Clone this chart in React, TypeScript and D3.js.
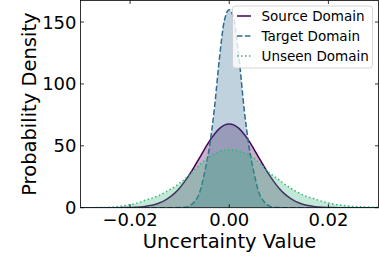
import * as d3 from 'd3';

const xValues = [
  -0.03, -0.029, -0.028, -0.027, -0.026, -0.025, -0.024, -0.023, -0.022, -0.021,
  -0.02, -0.019, -0.018, -0.017, -0.016, -0.015, -0.014, -0.013, -0.012, -0.011,
  -0.01, -0.009, -0.008, -0.007, -0.006, -0.005, -0.004, -0.003, -0.002, -0.001,
  0,
  0.001, 0.002, 0.003, 0.004, 0.005, 0.006, 0.007, 0.008, 0.009, 0.01,
  0.011, 0.012, 0.013, 0.014, 0.015, 0.016, 0.017, 0.018, 0.019, 0.02,
  0.021, 0.022, 0.023, 0.024, 0.025, 0.026, 0.027, 0.028, 0.029, 0.03,
];

const sourceDensity = [
  0, 0, 0, 0, 0, 0, 0, 0, 0.05, 0.1,
  0.2, 0.3, 0.6, 1.0, 1.7, 2.6, 4.0, 5.9, 8.5, 11.8,
  16.0, 21.1, 26.9, 33.4, 40.3, 47.2, 53.8, 59.4, 63.9, 66.7,
  67.7,
  66.7, 63.9, 59.4, 53.8, 47.2, 40.3, 33.4, 26.9, 21.1, 16.0,
  11.8, 8.5, 5.9, 4.0, 2.6, 1.7, 1.0, 0.6, 0.3, 0.2,
  0.1, 0.05, 0, 0, 0, 0, 0, 0, 0, 0,
];

const targetDensity = [
  0, 0, 0, 0, 0, 0, 0, 0, 0, 0,
  0, 0, 0, 0, 0, 0, 0, 0, 0, 0,
  0.1, 0.4, 1.5, 5, 12, 28, 49, 80, 120, 151,
  160,
  151, 120, 80, 49, 28, 12, 5, 1.5, 0.4, 0.1,
  0, 0, 0, 0, 0, 0, 0, 0, 0, 0,
  0, 0, 0, 0, 0, 0, 0, 0, 0, 0,
];

const unseenDensity = [
  0.03, 0.04, 0.05, 0.07, 0.1, 0.2, 0.4, 0.7, 1.1, 1.7,
  2.4, 3.3, 4.5, 6.0, 7.2, 8.5, 10.2, 12.2, 14.5, 16.8,
  19.8, 23.0, 27.0, 30.5, 34.5, 38.0, 41.0, 43.5, 45.5, 46.5,
  46.8,
  46.6, 45.5, 44.2, 42.7, 40.0, 36.5, 32.5, 28.5, 25.5, 22.6,
  19.5, 16.8, 14.2, 12.0, 10.0, 8.6, 7.4, 6.0, 4.8, 3.9,
  3.0, 2.3, 1.8, 1.3, 1.0, 0.8, 0.6, 0.5, 0.35, 0.25,
];

const xTicks = [-0.02, 0, 0.02];
const yTicks = [0, 50, 100, 150];

const SERIES = [
  { key: 'source', label: 'Source Domain', color: '#440154', dash: undefined, values: sourceDensity },
  { key: 'target', label: 'Target Domain', color: '#2f6b8e', dash: '5.5,2.4', values: targetDensity },
  { key: 'unseen', label: 'Unseen Domain', color: '#35b779', dash: '1.5,2.5', values: unseenDensity },
];

const WIDTH = 379;
const HEIGHT = 265;
const plot = { left: 80.5, right: 378.5, top: 0.5, bottom: 207.7 };
const FONT = "'DejaVu Sans', sans-serif";

export default function App() {
  const xScale = d3.scaleLinear().domain([-0.03, 0.0301]).range([plot.left, plot.right]);
  const yScale = d3.scaleLinear().domain([0, 167.4]).range([plot.bottom, plot.top]);

  const line = d3
    .line<number>()
    .x((_, i) => xScale(xValues[i]))
    .y((d) => yScale(d))
    .curve(d3.curveMonotoneX);

  const area = d3
    .area<number>()
    .x((_, i) => xScale(xValues[i]))
    .y0(yScale(0))
    .y1((d) => yScale(d))
    .curve(d3.curveMonotoneX);

  const fmtX = d3.format('.2f');
  const tickLen = 3.5;

  return (
    <svg
      width={WIDTH}
      height={HEIGHT}
      style={{ position: 'absolute', left: 0, top: 0, background: '#fff' }}
      fontFamily={FONT}
    >
      <defs>
        <clipPath id="plot-clip">
          <rect x={plot.left} y={plot.top} width={plot.right - plot.left} height={plot.bottom - plot.top} />
        </clipPath>
      </defs>

      <g clipPath="url(#plot-clip)">
        {SERIES.map((s) => (
          <g key={s.key}>
            <path d={area(s.values) || ''} fill={s.color} fillOpacity={0.3} stroke="none" />
            <path
              d={line(s.values) || ''}
              fill="none"
              stroke={s.color}
              strokeWidth={1.5}
              strokeDasharray={s.dash}
            />
          </g>
        ))}
      </g>

      {/* frame */}
      <rect
        x={plot.left}
        y={plot.top}
        width={plot.right - plot.left}
        height={plot.bottom - plot.top}
        fill="none"
        stroke="#000"
        strokeWidth={0.8}
      />

      {/* x ticks, inward on bottom and top */}
      {xTicks.map((t) => (
        <g key={`x${t}`}>
          <line x1={xScale(t)} x2={xScale(t)} y1={plot.bottom} y2={plot.bottom - tickLen} stroke="#000" strokeWidth={0.8} />
          <line x1={xScale(t)} x2={xScale(t)} y1={plot.top} y2={plot.top + tickLen} stroke="#000" strokeWidth={0.8} />
          <text x={xScale(t)} y={226} fontSize={18} textAnchor="middle" fill="#000">
            {fmtX(t)}
          </text>
        </g>
      ))}

      {/* y ticks, inward on left and right */}
      {yTicks.map((t) => (
        <g key={`y${t}`}>
          <line x1={plot.left} x2={plot.left + tickLen} y1={yScale(t)} y2={yScale(t)} stroke="#000" strokeWidth={0.8} />
          <line x1={plot.right} x2={plot.right - tickLen} y1={yScale(t)} y2={yScale(t)} stroke="#000" strokeWidth={0.8} />
          <text x={76.5} y={yScale(t) + 6.5} fontSize={18} textAnchor="end" fill="#000">
            {t}
          </text>
        </g>
      ))}

      <text x={(plot.left + plot.right) / 2} y={248} fontSize={19.5} textAnchor="middle" fill="#000">
        Uncertainty Value
      </text>
      <text
        transform={`translate(35.5,${(plot.top + plot.bottom) / 2}) rotate(-90)`}
        fontSize={19.5}
        textAnchor="middle"
        fill="#000"
      >
        Probability Density
      </text>

      {/* legend */}
      <g>
        <rect x={232.5} y={6} width={140} height={62} rx={3} fill="#fff" fillOpacity={0.8} stroke="#cccccc" strokeWidth={0.8} />
        {SERIES.map((s, i) => {
          const cy = 16 + i * 20;
          return (
            <g key={`leg-${s.key}`}>
              <line x1={237} x2={251} y1={cy} y2={cy} stroke={s.color} strokeWidth={1.5} strokeDasharray={s.dash} />
              <text x={261.5} y={cy + 4.8} fontSize={13.5} fill="#000">
                {s.label}
              </text>
            </g>
          );
        })}
      </g>
    </svg>
  );
}
